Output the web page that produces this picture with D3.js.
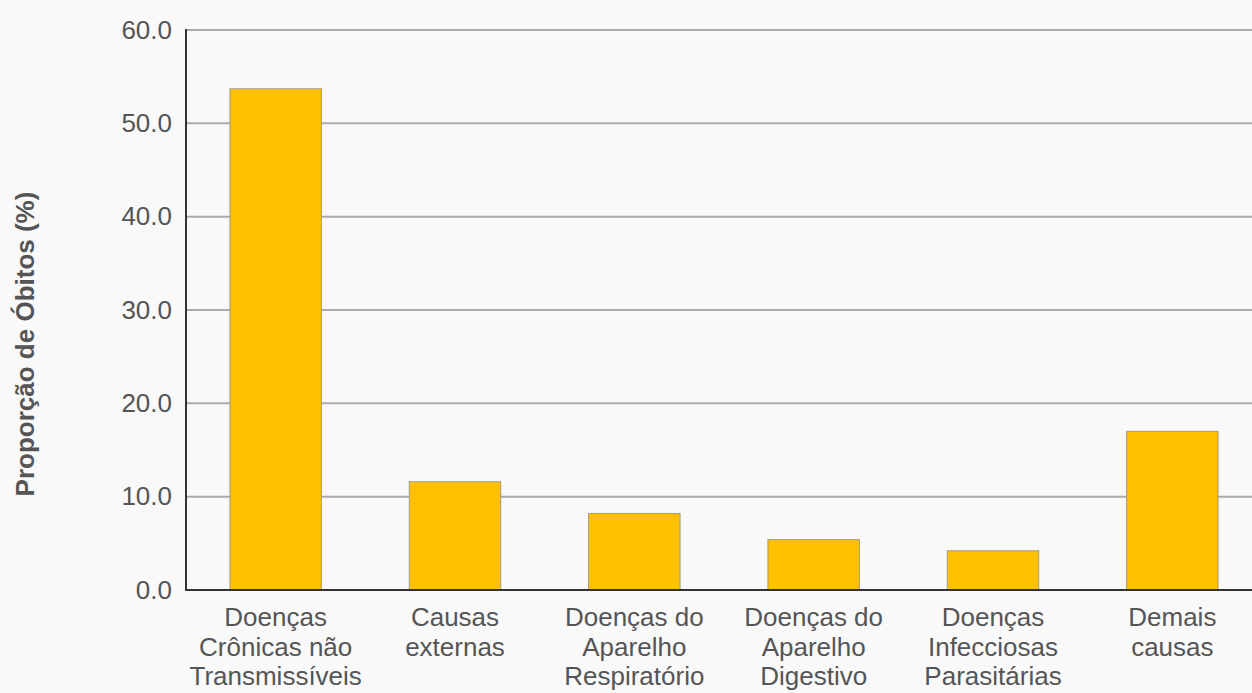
<!DOCTYPE html>
<html>
<head>
<meta charset="utf-8">
<script src="https://cdn.jsdelivr.net/npm/d3@7"></script>
<style>
  html, body { margin: 0; padding: 0; background: #f9f9f9; }
  svg { display: block; }
  text { font-family: "Liberation Sans", Arial, sans-serif; }
</style>
</head>
<body>
<svg id="chart" width="1252" height="693"></svg>
<script>
// Proporção de óbitos por grupo de causas
const categories = [
  ["Doenças", "Crônicas não", "Transmissíveis"],
  ["Causas", "externas"],
  ["Doenças do", "Aparelho", "Respiratório"],
  ["Doenças do", "Aparelho", "Digestivo"],
  ["Doenças", "Infecciosas", "Parasitárias"],
  ["Demais", "causas"]
];
const values = [53.7, 11.6, 8.2, 5.4, 4.2, 17.0];
const yTicks = [0, 10, 20, 30, 40, 50, 60];
const yTitle = "Proporção de Óbitos (%)";

const svg = d3.select("#chart");
const W = 1252, H = 693;
const margin = { top: 30, right: -10, bottom: 103, left: 186 };
const x0 = margin.left, x1 = W - margin.right;
const y0 = H - margin.bottom, y1 = margin.top;

const x = d3.scaleBand()
  .domain(d3.range(values.length))
  .range([x0, x1])
  .paddingInner(0.49)
  .paddingOuter(0.245);

const y = d3.scaleLinear().domain([0, 60]).range([y0, y1]);

// horizontal gridlines
svg.append("g")
  .selectAll("line")
  .data(yTicks.filter(d => d > 0))
  .join("line")
  .attr("x1", x0).attr("x2", W)
  .attr("y1", d => y(d)).attr("y2", d => y(d))
  .attr("stroke", "#ababab")
  .attr("stroke-width", 2);

// bars
svg.append("g")
  .selectAll("rect")
  .data(values)
  .join("rect")
  .attr("x", (d, i) => x(i))
  .attr("width", x.bandwidth())
  .attr("y", d => y(d))
  .attr("height", d => y(0) - y(d))
  .attr("fill", "#ffc000")
  .attr("stroke", "#a89a80")
  .attr("stroke-width", 1);

// y axis
const yAxis = d3.axisLeft(y)
  .tickValues(yTicks)
  .tickFormat(d3.format(".1f"))
  .tickSize(0)
  .tickPadding(14);
const gy = svg.append("g")
  .attr("transform", `translate(${x0},0)`)
  .call(yAxis);
gy.select(".domain").remove();
gy.selectAll("text")
  .attr("fill", "#555")
  .style("font-size", "26px");

// axis lines
svg.append("line")
  .attr("x1", x0).attr("x2", x0)
  .attr("y1", y1 - 1).attr("y2", y0 + 1)
  .attr("stroke", "#333").attr("stroke-width", 2);
svg.append("line")
  .attr("x1", x0 - 1).attr("x2", W)
  .attr("y1", y0).attr("y2", y0)
  .attr("stroke", "#333").attr("stroke-width", 2);

// category labels
const gx = svg.append("g");
categories.forEach((lines, i) => {
  const t = gx.append("text")
    .attr("x", x(i) + x.bandwidth() / 2)
    .attr("y", 626)
    .attr("text-anchor", "middle")
    .attr("fill", "#555")
    .style("font-size", "26px");
  lines.forEach((ln, k) => {
    t.append("tspan")
      .attr("x", x(i) + x.bandwidth() / 2)
      .attr("y", 626 + k * 29.5)
      .text(ln);
  });
});

// y-axis title
svg.append("text")
  .attr("transform", "translate(34, 344) rotate(-90)")
  .attr("text-anchor", "middle")
  .attr("fill", "#555")
  .style("font-size", "26px")
  .style("font-weight", "bold")
  .text(yTitle);
</script>
</body>
</html>
